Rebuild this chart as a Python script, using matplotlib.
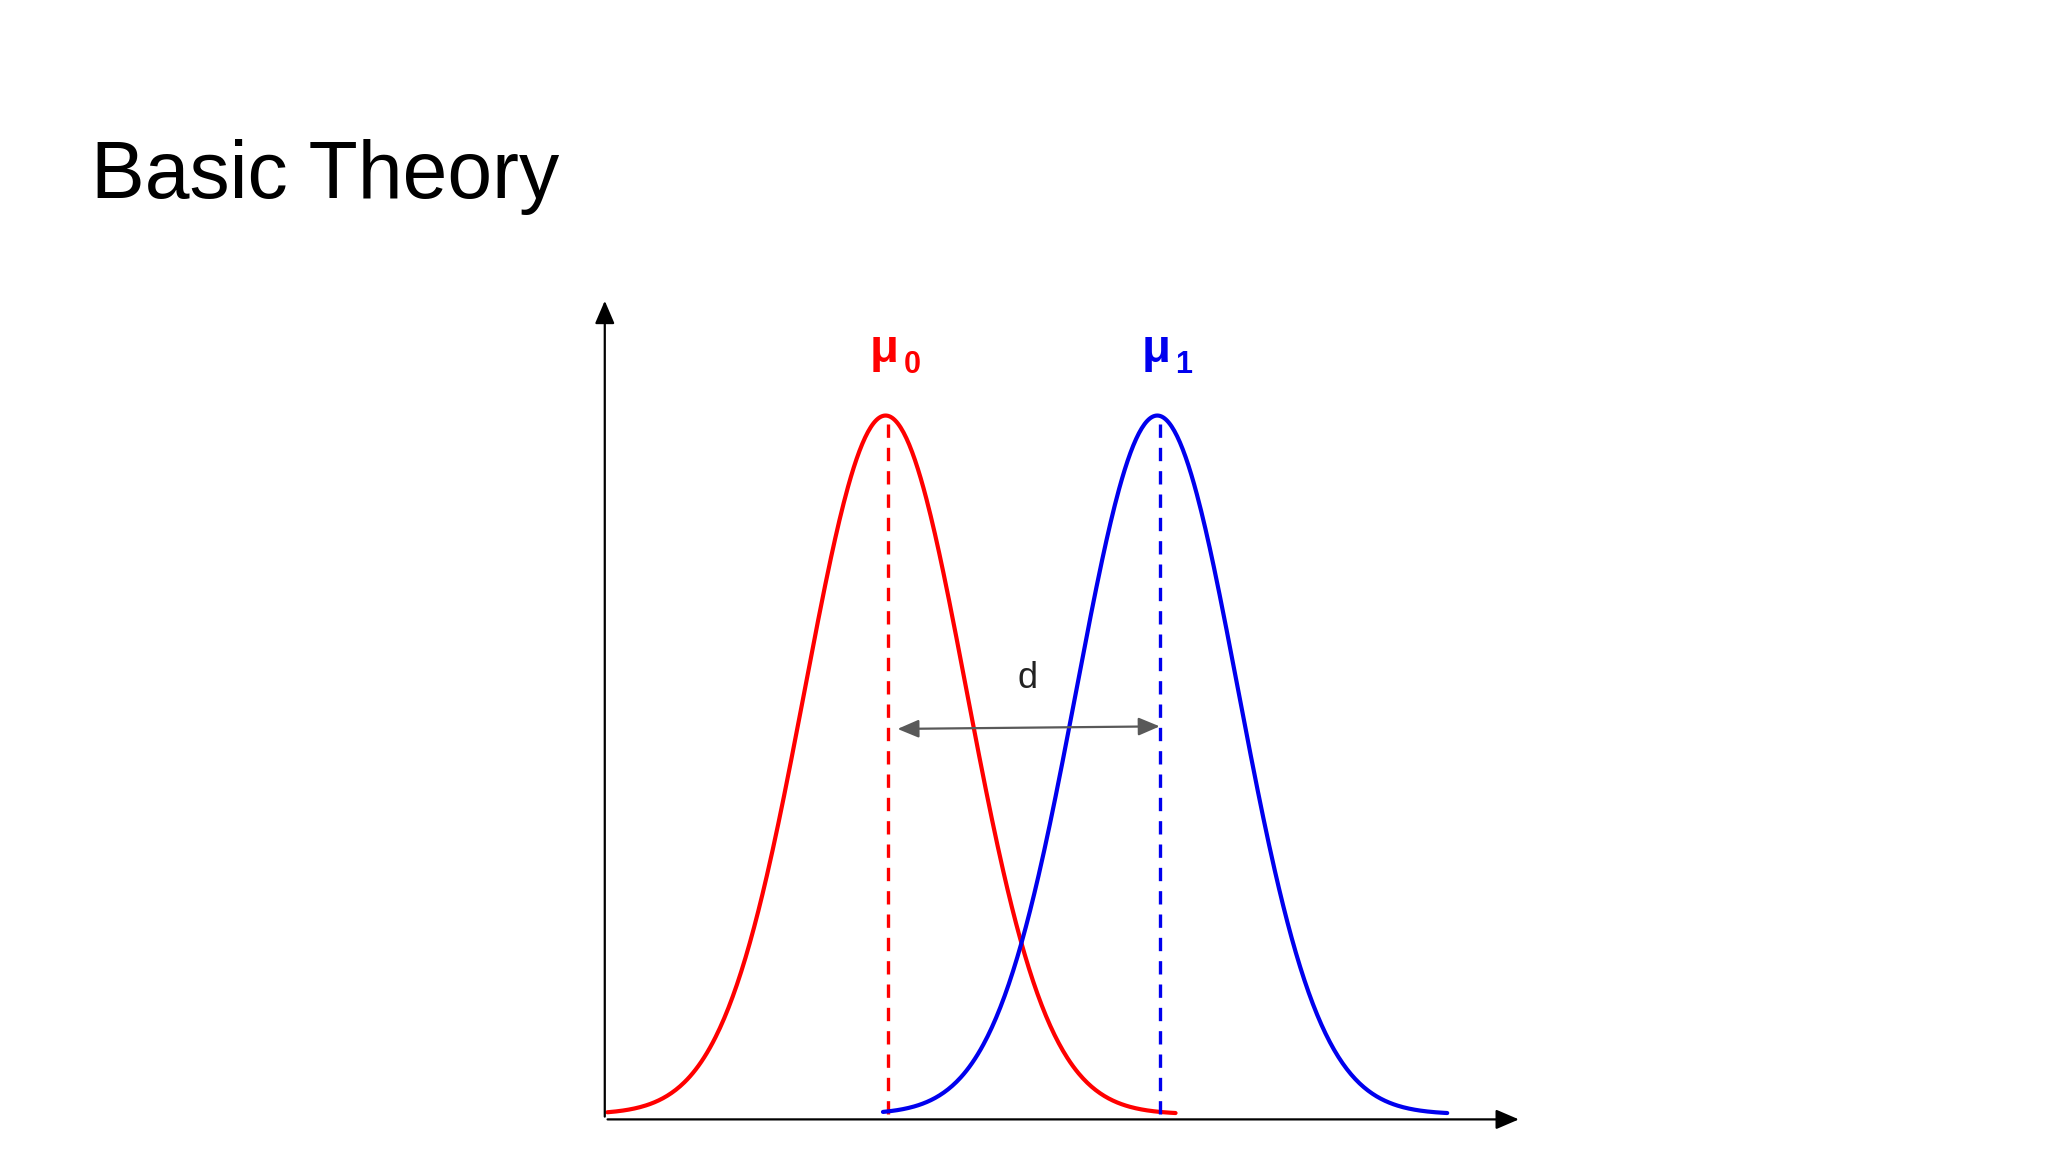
import numpy as np
import matplotlib
matplotlib.use("Agg")
import matplotlib.pyplot as plt

plt.rcParams['font.family'] = ['Liberation Sans', 'DejaVu Sans']

title = "Basic Theory"
means = [215, 423]          # mu0, mu1 (chart units)
sigma = 62
peak = 535
base = 4
ranges = [(2, 437), (213, 645)]
colors = ["#ff0000", "#0000ee"]
labels = ["0", "1"]
d_label = "d"

fig = plt.figure(figsize=(20.48, 11.52), dpi=100)
fig.text(0.0446, 0.8277, title, fontsize=58, va='baseline', ha='left')

ax = fig.add_axes([0.2953, 0.0283, 0.4477, 0.713])
ax.set_xlim(0, 702)
ax.set_ylim(0, 629)
ax.axis('off')

# axes with arrows
ax.annotate('', xy=(702, 0), xytext=(0, 0),
            arrowprops=dict(arrowstyle='-|>,head_length=1.4,head_width=0.6', color='black', lw=1.6))
ax.annotate('', xy=(0, 629), xytext=(0, 0),
            arrowprops=dict(arrowstyle='-|>,head_length=1.4,head_width=0.6', color='black', lw=1.6))

for mu, (a, b), c, lab in zip(means, ranges, colors, labels):
    x = np.linspace(a, b, 400)
    y = base + peak * np.exp(-(x - mu) ** 2 / (2 * sigma ** 2))
    ax.plot(x, y, color=c, lw=3.0, solid_capstyle='round')
    ax.plot([mu + 2, mu + 2], [base, base + peak], color=c, lw=2.4, ls=(0, (4, 3)))
    t = ax.text(mu - 1, 580, "μ", color=c, fontsize=34, fontweight='bold', ha='center', va='baseline')
    ax.annotate(lab, xy=(mu - 1, 580), xytext=(14, -8), textcoords='offset points',
                color=c, fontsize=22, fontweight='bold', ha='left', va='baseline')

ax.annotate('', xy=(222, 299), xytext=(427, 301),
            arrowprops=dict(arrowstyle='<|-|>,head_length=1.3,head_width=0.55', color='#595959', lw=1.6))
ax.text(324, 330, d_label, fontsize=26, ha='center', va='baseline', color='#222222')

fig.savefig("out.png", dpi=100)
